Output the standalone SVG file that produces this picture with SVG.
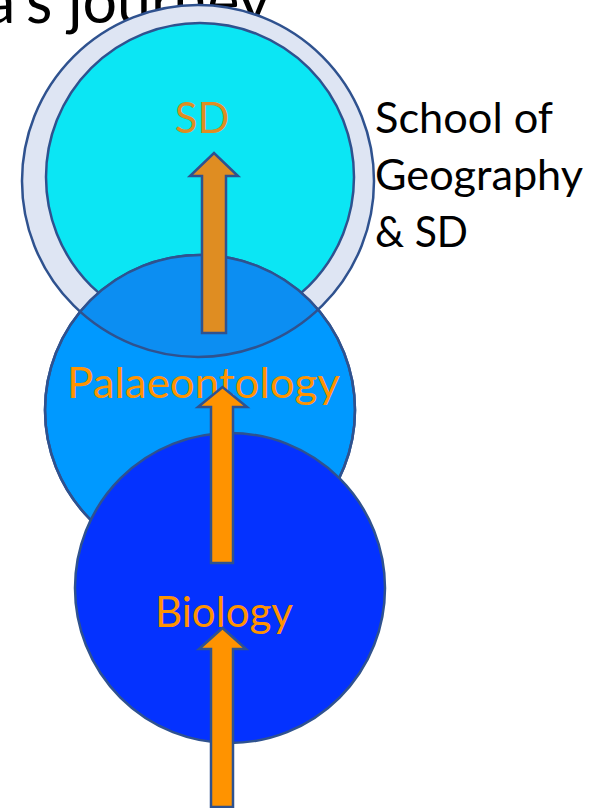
<svg xmlns="http://www.w3.org/2000/svg" width="600" height="808" viewBox="0 0 600 808">
<style>
.st{stroke:#2F528F;stroke-width:2.5}
.lbl{font-family:Lato,"Open Sans","Liberation Sans",sans-serif;font-size:42px}
.blk{fill:#000}
.or{fill:#FF9300}
.or2{fill:#DF8D22}
</style>
<defs>
<clipPath id="outerClip"><circle cx="198" cy="181" r="176"/></clipPath>
</defs>
<rect width="600" height="808" fill="#fff"/>
<g id="title">
<text class="lbl blk" x="270" y="23" text-anchor="end" font-size="62" style="font-size:62px" textLength="285" lengthAdjust="spacingAndGlyphs">a’s journey</text>
</g>
<g id="node-sd">
<circle class="st" cx="198" cy="181" r="176" fill="#DEE5F3"/>
<circle class="st" cx="200" cy="177" r="154" fill="#0BE6F4"/>
<text class="lbl or2" x="202" y="133" text-anchor="middle">SD</text>
</g>
<g id="node-palaeontology">
<circle class="st" cx="200" cy="410" r="155" fill="#0099FF"/>
<circle cx="200" cy="410" r="155" fill="#0C8EF2" clip-path="url(#outerClip)"/>
<circle class="st" cx="198" cy="181" r="176" fill="none" clip-path="url(#palClip)"/>
<circle class="st" cx="200" cy="410" r="155" fill="none"/>
<text class="lbl or" x="203.5" y="398" text-anchor="middle" textLength="273" lengthAdjust="spacingAndGlyphs">Palaeontology</text>
</g>
<defs>
<clipPath id="palClip"><circle cx="200" cy="410" r="155"/></clipPath>
</defs>
<g id="node-biology">
<circle class="st" cx="230" cy="588" r="155" fill="#0432FF"/>
<text class="lbl or" x="224" y="627" text-anchor="middle" textLength="138" lengthAdjust="spacingAndGlyphs">Biology</text>
</g>
<g id="label-school">
<text class="lbl blk" x="375" y="133" textLength="178" lengthAdjust="spacingAndGlyphs">School of</text>
<text class="lbl blk" x="375" y="190" textLength="208" lengthAdjust="spacingAndGlyphs">Geography</text>
<text class="lbl blk" x="375" y="247" textLength="93" lengthAdjust="spacingAndGlyphs">&amp; SD</text>
</g>
<g id="connectors" stroke="#2F528F" stroke-width="2.5" stroke-linejoin="miter">
<polygon points="202,333 202,176 190,176 214,153 238,176 226,176 226,333" fill="#DF8D22"/>
<polygon points="211,563 211,407 198,407 222.5,387 247,407 233,407 233,563" fill="#FF9300"/>
<polygon points="211,807 211,649 199,649 222.5,628 246,649 233,649 233,807" fill="#FF9300"/>
</g>
</svg>
